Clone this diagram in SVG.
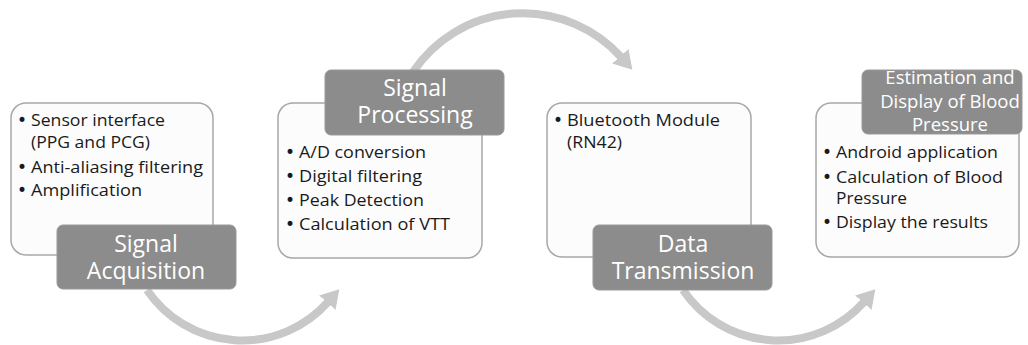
<svg xmlns="http://www.w3.org/2000/svg" width="1028" height="345" viewBox="0 0 1028 345">
<defs>
<style>
.box{fill:#fcfcfc;stroke:#a8a8a8;stroke-width:1.5}
.lab{fill:#8c8c8c;stroke:#999999;stroke-width:1}
.bt{font-family:"Open Sans","Noto Sans",sans-serif;font-size:17px;fill:#1a1a1a}
.bu{font-family:"DejaVu Sans",sans-serif;font-size:17px;fill:#1a1a1a;text-anchor:middle}
.lt{font-family:"Open Sans","Noto Sans",sans-serif;font-size:23px;fill:#ffffff;text-anchor:middle}
.lt4{font-family:"Open Sans","Noto Sans",sans-serif;font-size:18.5px;fill:#ffffff;text-anchor:middle}
.arc{fill:none;stroke:#c8c8c8;stroke-width:8}
</style>
<marker id="ah" markerUnits="userSpaceOnUse" markerWidth="26" markerHeight="26" refX="1" refY="11" orient="auto">
<path d="M0,0 L18,11 L0,22 z" fill="#c8c8c8"/>
</marker>
</defs>
<rect width="1028" height="345" fill="#ffffff"/>
<g id="connectors">
<path class="arc" d="M 147 290 A 115 115 0 0 0 328 302" marker-end="url(#ah)"/>
<path class="arc" d="M 413 72 A 132 132 0 0 1 621 57" marker-end="url(#ah)"/>
<path class="arc" d="M 683 290 A 115 115 0 0 0 864 302" marker-end="url(#ah)"/>
</g>
<g id="node-acquisition">
<rect class="box" x="11" y="103" width="202" height="152" rx="15"/>
<text class="bu" x="22" y="126">•</text><text class="bt" x="31" y="126" textLength="134" lengthAdjust="spacingAndGlyphs">Sensor interface</text>
<text class="bt" x="31" y="148" textLength="119" lengthAdjust="spacingAndGlyphs">(PPG and PCG)</text>
<text class="bu" x="22" y="173">•</text><text class="bt" x="31" y="173" textLength="172" lengthAdjust="spacingAndGlyphs">Anti-aliasing filtering</text>
<text class="bu" x="22" y="196">•</text><text class="bt" x="31" y="196" textLength="111" lengthAdjust="spacingAndGlyphs">Amplification</text>
<rect class="lab" x="57" y="225" width="179" height="64" rx="6"/>
<text class="lt" x="146" y="252">Signal</text>
<text class="lt" x="146" y="279">Acquisition</text>
</g>
<g id="node-processing">
<rect class="box" x="278" y="103" width="204" height="155" rx="15"/>
<text class="bu" x="290" y="158">•</text><text class="bt" x="299" y="158" textLength="127" lengthAdjust="spacingAndGlyphs">A/D conversion</text>
<text class="bu" x="290" y="182">•</text><text class="bt" x="299" y="182" textLength="123" lengthAdjust="spacingAndGlyphs">Digital filtering</text>
<text class="bu" x="290" y="206">•</text><text class="bt" x="299" y="206" textLength="125" lengthAdjust="spacingAndGlyphs">Peak Detection</text>
<text class="bu" x="290" y="230">•</text><text class="bt" x="299" y="230" textLength="151" lengthAdjust="spacingAndGlyphs">Calculation of VTT</text>
<rect class="lab" x="325" y="70" width="179" height="65" rx="6"/>
<text class="lt" x="415" y="96">Signal</text>
<text class="lt" x="415" y="123">Processing</text>
</g>
<g id="node-transmission">
<rect class="box" x="547" y="103" width="204" height="154" rx="15"/>
<text class="bu" x="558" y="126">•</text><text class="bt" x="567" y="126" textLength="153" lengthAdjust="spacingAndGlyphs">Bluetooth Module</text>
<text class="bt" x="567" y="148" textLength="55" lengthAdjust="spacingAndGlyphs">(RN42)</text>
<rect class="lab" x="593" y="225" width="179" height="65" rx="6"/>
<text class="lt" x="683" y="252">Data</text>
<text class="lt" x="683" y="279">Transmission</text>
</g>
<g id="node-estimation">
<rect class="box" x="816" y="103" width="203" height="154" rx="15"/>
<text class="bu" x="827" y="158">•</text><text class="bt" x="836" y="158" textLength="162" lengthAdjust="spacingAndGlyphs">Android application</text>
<text class="bu" x="827" y="183">•</text><text class="bt" x="836" y="183" textLength="167" lengthAdjust="spacingAndGlyphs">Calculation of Blood</text>
<text class="bt" x="836" y="204" textLength="71" lengthAdjust="spacingAndGlyphs">Pressure</text>
<text class="bu" x="827" y="228">•</text><text class="bt" x="836" y="228" textLength="152" lengthAdjust="spacingAndGlyphs">Display the results</text>
<rect class="lab" x="862" y="70" width="160" height="64" rx="6"/>
<text class="lt4" x="950" y="84">Estimation and</text>
<text class="lt4" x="950" y="108">Display of Blood</text>
<text class="lt4" x="950" y="131">Pressure</text>
</g>
</svg>
